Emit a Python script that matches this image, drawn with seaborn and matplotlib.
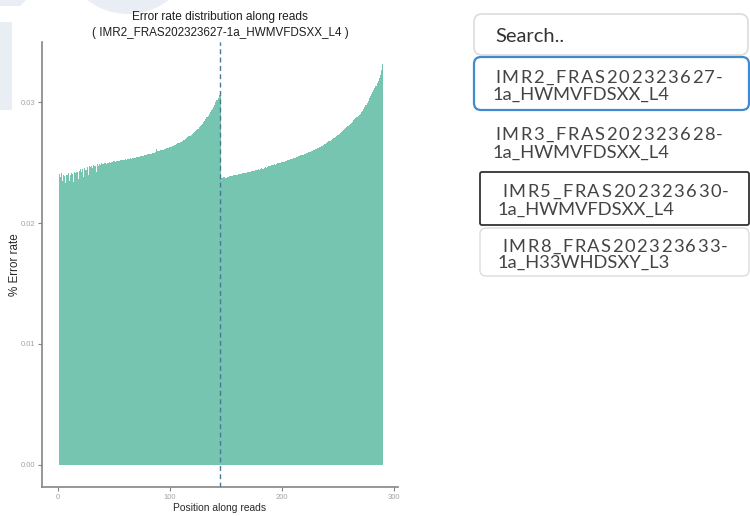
import matplotlib
matplotlib.use("Agg")
import numpy as np
import pandas as pd
import matplotlib.pyplot as plt
import seaborn as sns
from matplotlib.patches import FancyBboxPatch, Circle, Rectangle, Polygon
from matplotlib.font_manager import FontProperties, findfont, get_font

# ---- data -------------------------------------------------------------
# per-base error rate, read 1 (positions 1-145)
read1_rate = [
    0.02405, 0.02380, 0.02410, 0.02345, 0.02400, 0.02390, 0.02330, 0.02395, 0.02410, 0.02350,
    0.02400, 0.02415, 0.02405, 0.02340, 0.02420, 0.02410, 0.02425, 0.02360, 0.02430, 0.02445,
    0.02420, 0.02450, 0.02380, 0.02455, 0.02440, 0.02465, 0.02395, 0.02470, 0.02460, 0.02475,
    0.02455, 0.02480, 0.02470, 0.02420, 0.02485, 0.02475, 0.02490, 0.02480, 0.02495, 0.02485,
    0.02490, 0.02495, 0.02488, 0.02500, 0.02497, 0.02503, 0.02500, 0.02507, 0.02504, 0.02510,
    0.02508, 0.02513, 0.02511, 0.02516, 0.02514, 0.02519, 0.02517, 0.02522, 0.02520, 0.02525,
    0.02523, 0.02528, 0.02526, 0.02531, 0.02534, 0.02532, 0.02537, 0.02540, 0.02538, 0.02543,
    0.02546, 0.02544, 0.02549, 0.02552, 0.02555, 0.02553, 0.02558, 0.02561, 0.02564, 0.02567,
    0.02570, 0.02568, 0.02573, 0.02576, 0.02579, 0.02582, 0.02585, 0.02610, 0.02591, 0.02594,
    0.02597, 0.02600, 0.02603, 0.02606, 0.02609, 0.02612, 0.02616, 0.02620, 0.02624, 0.02628,
    0.02632, 0.02636, 0.02640, 0.02644, 0.02648, 0.02653, 0.02658, 0.02663, 0.02668, 0.02673,
    0.02678, 0.02684, 0.02690, 0.02696, 0.02702, 0.02709, 0.02716, 0.02723, 0.02730, 0.02738,
    0.02746, 0.02754, 0.02762, 0.02771, 0.02780, 0.02790, 0.02800, 0.02811, 0.02822, 0.02834,
    0.02846, 0.02859, 0.02872, 0.02886, 0.02900, 0.02915, 0.02930, 0.02946, 0.02962, 0.02979,
    0.02996, 0.03014, 0.03034, 0.03056, 0.03095,
]

# per-base error rate, read 2 (positions 146-290)
read2_rate = [
    0.02375, 0.02370, 0.02378, 0.02380, 0.02376, 0.02384, 0.02382, 0.02388, 0.02386, 0.02392,
    0.02390, 0.02396, 0.02394, 0.02400, 0.02398, 0.02404, 0.02402, 0.02408, 0.02406, 0.02412,
    0.02410, 0.02416, 0.02414, 0.02420, 0.02418, 0.02424, 0.02422, 0.02428, 0.02426, 0.02432,
    0.02436, 0.02434, 0.02440, 0.02444, 0.02442, 0.02448, 0.02452, 0.02450, 0.02456, 0.02460,
    0.02458, 0.02464, 0.02468, 0.02472, 0.02470, 0.02476, 0.02480, 0.02484, 0.02482, 0.02488,
    0.02492, 0.02496, 0.02494, 0.02500, 0.02504, 0.02508, 0.02506, 0.02512, 0.02516, 0.02520,
    0.02524, 0.02522, 0.02528, 0.02532, 0.02536, 0.02540, 0.02538, 0.02544, 0.02548, 0.02552,
    0.02556, 0.02560, 0.02558, 0.02564, 0.02568, 0.02572, 0.02576, 0.02580, 0.02584, 0.02588,
    0.02592, 0.02596, 0.02600, 0.02604, 0.02610, 0.02614, 0.02618, 0.02624, 0.02628, 0.02634,
    0.02640, 0.02644, 0.02650, 0.02656, 0.02662, 0.02668, 0.02674, 0.02680, 0.02686, 0.02694,
    0.02700, 0.02706, 0.02714, 0.02720, 0.02728, 0.02734, 0.02742, 0.02750, 0.02758, 0.02766,
    0.02774, 0.02782, 0.02790, 0.02800, 0.02810, 0.02818, 0.02828, 0.02838, 0.02848, 0.02858,
    0.02866, 0.02874, 0.02884, 0.02894, 0.02905, 0.02916, 0.02928, 0.02942, 0.02958, 0.02975,
    0.02994, 0.03012, 0.03030, 0.03048, 0.03066, 0.03084, 0.03100, 0.03116, 0.03134, 0.03154,
    0.03176, 0.03198, 0.03222, 0.03262, 0.03318,
]

read1_length = 145
sample_name = "IMR2_FRAS202323627-1a_HWMVFDSXX_L4"
sample_list = [
    "IMR2_FRAS202323627-1a_HWMVFDSXX_L4",
    "IMR3_FRAS202323628-1a_HWMVFDSXX_L4",
    "IMR5_FRAS202323630-1a_HWMVFDSXX_L4",
    "IMR8_FRAS202323633-1a_H33WHDSXY_L3",
]
x_ticks = [0, 100, 200, 300]
y_ticks = [0.00, 0.01, 0.02, 0.03]
y_tick_labels = ["0.00", "0.01", "0.02", "0.03"]

rates = read1_rate + read2_rate
df = pd.DataFrame({"position": np.arange(1, len(rates) + 1), "error_rate": rates})

# ---- figure -----------------------------------------------------------
W, H = 750, 516
DPI = 100
fig = plt.figure(figsize=(W / DPI, H / DPI), dpi=DPI)
fig.patch.set_facecolor("white")

# page layer in pixel coordinates (y down)
page = fig.add_axes([0, 0, 1, 1], zorder=0)
page.set_xlim(0, W)
page.set_ylim(H, 0)
page.axis("off")

# faint logo watermark
wm = "#e9eef5"
page.add_patch(Circle((128, -52), 66, color=wm, lw=0, zorder=0))
page.add_patch(Rectangle((0, 22), 12, 88, color=wm, lw=0, zorder=0))
page.add_patch(Polygon([(0, 0), (26, 0), (20, 6), (0, 6)], closed=True, color=wm, lw=0, zorder=0))

# ---- bar chart --------------------------------------------------------
bar_color = "#75c5b0"
ax = fig.add_axes([42 / W, 29 / H, 356 / W, 445 / H], zorder=2)
ax.patch.set_alpha(0)
sns.barplot(data=df, x="position", y="error_rate", native_scale=True, width=1,
            color=bar_color, saturation=1, linewidth=0, errorbar=None, ax=ax)
ax.axvline(read1_length, color="#4d7796", lw=1.0, ls=(0, (3.5, 2.5)), zorder=3)

ax.set_xlim(-14.3, 303.6)
ax.set_ylim(-0.00182, 0.03496)
ax.set_xticks(x_ticks)
ax.set_xticklabels([str(t) for t in x_ticks])
ax.set_yticks(y_ticks)
ax.set_yticklabels(y_tick_labels)
for side in ("top", "right"):
    ax.spines[side].set_visible(False)
for side in ("left", "bottom"):
    ax.spines[side].set_color("#858585")
    ax.spines[side].set_linewidth(1.2)
ax.tick_params(axis="both", length=3, width=0.8, color="#858585",
               labelsize=5.5, labelcolor="#a3a3a3", pad=2)

chart_font = "Liberation Sans"
ax.set_xlabel("Position along reads", fontsize=7.4, family=chart_font, color="#2a2a2a")
ax.xaxis.set_label_coords(0.5, -0.037)
ax.set_ylabel("% Error rate", fontsize=8.4, family=chart_font, color="#2a2a2a")
ax.yaxis.set_label_coords(-0.058, 0.5)
for lab in ax.get_xticklabels() + ax.get_yticklabels():
    lab.set_family(chart_font)
page.text(220, 17, "Error rate distribution along reads", ha="center", va="center",
          fontsize=8.6, family=chart_font, color="#1e1e1e")
page.text(220, 33, f"( {sample_name} )", ha="center", va="center",
          fontsize=8.4, family=chart_font, color="#1e1e1e")

# ---- sample selector --------------------------------------------------
ui_font = FontProperties(family="Lato", size=13.2)
search_font = FontProperties(family="Lato", size=14.5)
text_color = "#444444"


def advances(s, fp):
    """Horizontal advance of every character, in pixels."""
    ft = get_font(findfont(fp))
    ft.set_size(fp.get_size_in_points(), DPI)
    out = []
    for ch in s:
        g = ft.load_char(ord(ch))
        out.append(g.linearHoriAdvance / 65536.0)
    return out


def justified_line(s, x0, x1, y, fp):
    adv = advances(s, fp)
    extra = (x1 - x0 - sum(adv)) / (len(s) - 1)
    x = x0
    for ch, a in zip(s, adv):
        page.text(x, y, ch, fontproperties=fp, color=text_color,
                  ha="left", va="baseline", zorder=5)
        x += a + extra


def box(x0, y0, x1, y1, edge, lw, radius):
    page.add_patch(FancyBboxPatch((x0, y0), x1 - x0, y1 - y0,
                                  boxstyle=f"round,pad=0,rounding_size={radius}",
                                  facecolor="white", edgecolor=edge, lw=lw, zorder=4))


box(474, 14, 748, 55, "#dedede", 1.3, 8)
page.text(495, 42, "Search..", fontproperties=search_font, color="#333333",
          ha="left", va="baseline", zorder=5)

items = [
    # (box, edge colour, line width, radius, line-1 span, line-2 x, baselines)
    ((474, 57, 749, 110), "#3f8ad0", 1.6, 7, (495, 723), 493, (83, 100)),
    (None, None, 0, 0, (495, 723), 493, (140, 158)),
    ((480, 172, 749, 225), "#333333", 1.3, 2, (502, 729), 498, (197, 215)),
    ((480, 228, 749, 276), "#dcdcdc", 1.0, 6, (502, 728), 498, (252, 268)),
]
for name, (bx, edge, lw, rad, span1, x2, (b1, b2)) in zip(sample_list, items):
    if bx is not None:
        box(*bx, edge, lw, rad)
    head, tail = name.split("-", 1)
    justified_line(head + "-", span1[0], span1[1], b1, ui_font)
    page.text(x2, b2, tail, fontproperties=ui_font, color=text_color,
              ha="left", va="baseline", zorder=5)

fig.savefig("out.png", dpi=DPI, facecolor="white")
